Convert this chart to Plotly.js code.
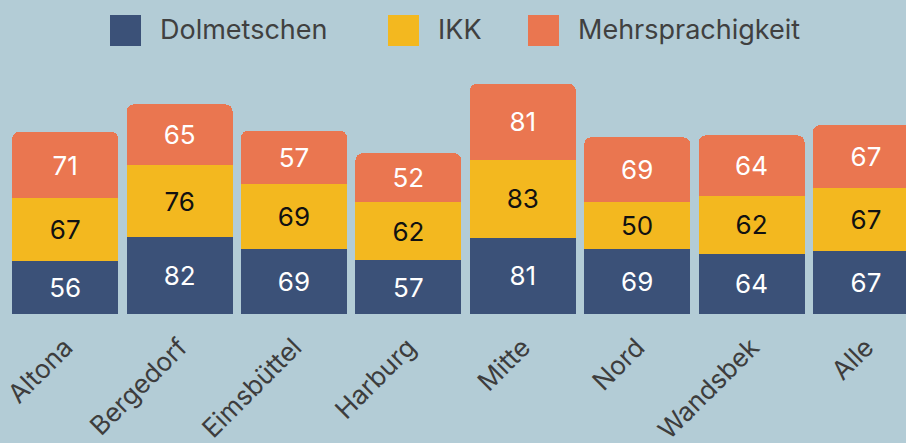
<!DOCTYPE html>
<html><head><meta charset="utf-8">
<script src="https://cdn.plot.ly/plotly-3.0.1.min.js"></script>
<style>html,body{margin:0;padding:0;background:#b3ccd6;}#c{width:906px;height:443px;}</style>
</head><body><div id="c"></div>
<script>
const categories = ['Altona','Bergedorf','Eimsbüttel','Harburg','Mitte','Nord','Wandsbek','Alle'];
const seriesNames = ['Dolmetschen','IKK','Mehrsprachigkeit'];
const dolmetschen = [56,82,69,57,81,69,64,67];
const ikk = [67,76,69,62,83,50,62,67];
const mehrsprachigkeit = [71,65,57,52,81,69,64,67];
const colors = ['#3b5178','#f3b81f','#ea7650'];
const textColors = ['#ffffff','#111111','#ffffff'];
const values = [dolmetschen, ikk, mehrsprachigkeit];

const FONT = 'Inter, "Open Sans", sans-serif';
const W = 906, H = 443, mL = 8, mR = 0, mT = 60, mB = 129;

const traces = values.map((v, i) => ({
  type: 'bar', name: seriesNames[i], x: categories, y: v,
  marker: {color: colors[i], line: {width: 0}},
  text: v.map(String), textposition: 'inside', insidetextanchor: 'middle',
  textfont: {family: FONT, size: 26, color: textColors[i]},
  hoverinfo: 'skip', showlegend: false
}));

// custom legend (decoration) positioned in pixels converted to paper coords
const pw = W - mL - mR, ph = H - mT - mB;
const px = x => (x - mL) / pw;
const py = y => (H - mB - y) / ph;
const legendX = [110, 388, 528];
const shapes = [], annotations = [];
seriesNames.forEach((n, i) => {
  shapes.push({type: 'rect', xref: 'paper', yref: 'paper',
    x0: px(legendX[i]), x1: px(legendX[i] + 31), y0: py(46), y1: py(15),
    fillcolor: colors[i], line: {width: 0}});
  annotations.push({xref: 'paper', yref: 'paper', x: px(legendX[i] + 48), y: py(30),
    xanchor: 'left', yanchor: 'middle', text: n, showarrow: false,
    font: {family: FONT, size: 27, color: '#404040'}});
});

const layout = {
  width: W, height: H,
  margin: {l: mL, r: mR, t: mT, b: mB},
  paper_bgcolor: '#b3ccd6', plot_bgcolor: '#b3ccd6',
  barmode: 'stack', bargap: 0.074, barcornerradius: 7,
  showlegend: false,
  xaxis: {type: 'category', range: [-0.5, 7.35], showgrid: false, zeroline: false,
    showline: false, ticks: '', tickangle: -45, ticklabelstandoff: 12,
    tickfont: {family: FONT, size: 26, color: '#3d3d3d'}},
  yaxis: {range: [0, 270.2], visible: false, showgrid: false, zeroline: false},
  shapes: shapes, annotations: annotations,
  font: {family: FONT}
};
Plotly.newPlot('c', traces, layout, {displayModeBar: false, staticPlot: true});
</script></body></html>
